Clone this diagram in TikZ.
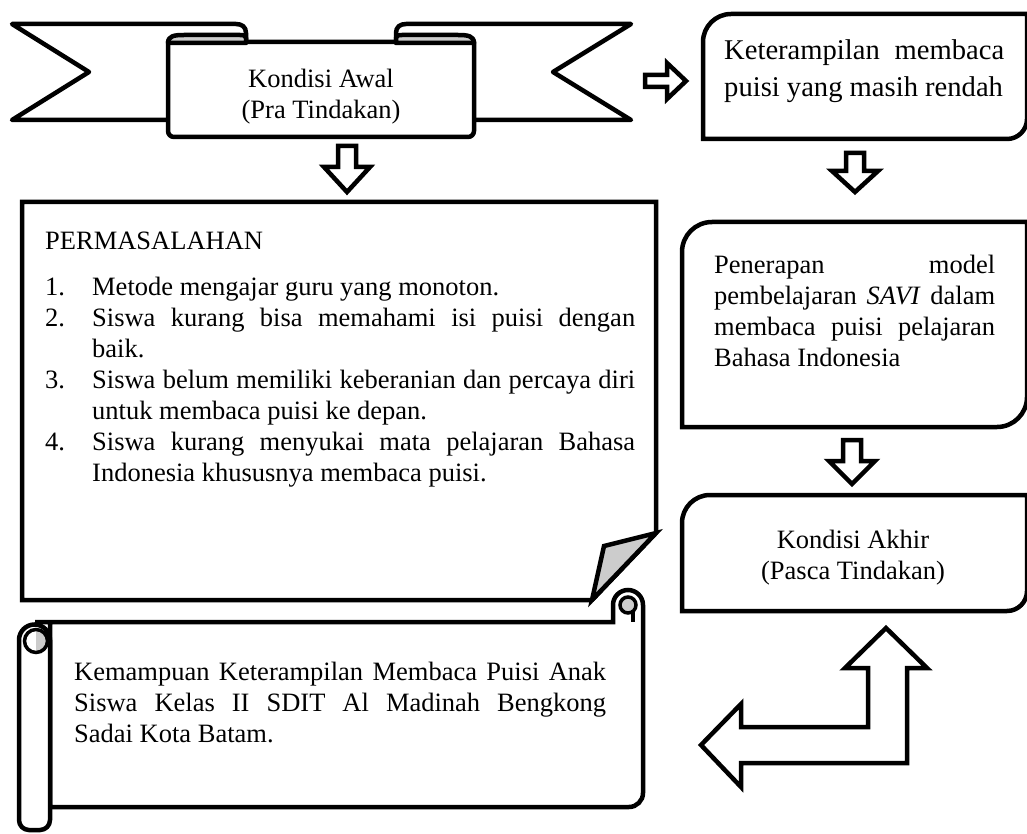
\documentclass[tikz,border=0pt]{standalone}
\usepackage{fontspec}
\setmainfont{Liberation Serif}
\definecolor{flap}{gray}{0.8}
\tikzset{
  outl/.style={draw=black, line width=4.5pt, fill=white, line join=miter},
  rib/.style={outl, line join=round},
  txt/.style={inner sep=0pt, font=\fontsize{26.5}{31}\selectfont},
  bigtxt/.style={inner sep=0pt, font=\fontsize{28.6}{37}\selectfont},
}
\begin{document}
\begin{tikzpicture}[x=1pt,y=-1pt]
\useasboundingbox (0,0) rectangle (1027,834);

% ---------- Ribbon "Kondisi Awal" ----------
\draw[rib] (12,24) -- (236,24) .. controls (242,24) and (246,27) .. (246,33) -- (246,120) -- (12,120) -- (89,72) -- cycle;
\draw[rib] (631,24) -- (406,24) .. controls (400,24) and (396,27) .. (396,33) -- (396,120) -- (631,120) -- (553,72) -- cycle;
\draw[rib] (168,42) [rounded corners=6pt] -- (168,137) -- (474,137) -- (474,90) [sharp corners] -- (474,42) -- cycle;
\draw[rib, fill=flap] (168,43) .. controls (168,36) and (174,35) .. (184,35) -- (240,35) .. controls (244,35) and (246,36) .. (246,38) -- (246,43) -- cycle;
\draw[rib, fill=flap] (474,43) .. controls (474,36) and (468,35) .. (458,35) -- (402,35) .. controls (398,35) and (396,36) .. (396,38) -- (396,43) -- cycle;
\node[txt, anchor=base] (awal) at (321,88) {\parbox[t]{300pt}{\centering Kondisi Awal\\(Pra Tindakan)}};

% ---------- arrows ----------
\draw[outl] (645,75) -- (667,75) -- (667,63) -- (686,81) -- (667,99) -- (667,87) -- (645,87) -- cycle;
\draw[outl] (338,146) -- (356,146) -- (356,167) -- (370,167) -- (347,192) -- (324,167) -- (338,167) -- cycle;
\draw[outl] (846,153) -- (864,153) -- (864,171) -- (878,171) -- (855,192) -- (832,171) -- (846,171) -- cycle;
\draw[outl] (843,440) -- (861,440) -- (861,461) -- (875,461) -- (852,484) -- (829,461) -- (843,461) -- cycle;
\draw[outl] (886,628) -- (927,668) -- (907,668) -- (907,763) -- (741,763) -- (741,787) -- (701,745) -- (741,704) -- (741,727) -- (868,727) -- (868,668) -- (845,668) -- cycle;

% ---------- right boxes ----------
\draw[outl] (703,80) [rounded corners=28pt] -- (703,14) -- (860,14) [sharp corners] -- (1027,14) -- (1027,80) [rounded corners=20pt] -- (1027,139) -- (860,139) [sharp corners] -- (703,139) -- cycle;
\node[bigtxt, anchor=base west] (ket) at (724,60) {\parbox[t]{280pt}{\makebox[280pt][s]{Keterampilan membaca}\\puisi yang masih rendah}};

\draw[outl] (682,320) [rounded corners=30pt] -- (682,222) -- (850,222) [sharp corners] -- (1027,222) -- (1027,320) [rounded corners=30pt] -- (1027,427) -- (850,427) [sharp corners] -- (682,427) -- cycle;
\node[txt, anchor=base west] (savi) at (714,273) {\parbox[t]{281pt}{\makebox[281pt][s]{Penerapan model}\\\makebox[281pt][s]{pembelajaran \textit{SAVI} dalam}\\\makebox[281pt][s]{membaca puisi pelajaran}\\Bahasa Indonesia}};

\draw[outl] (682,550) [rounded corners=28pt] -- (682,495) -- (850,495) [sharp corners] -- (1027,495) -- (1027,550) [rounded corners=20pt] -- (1027,611) -- (850,611) [sharp corners] -- (682,611) -- cycle;
\node[txt, anchor=base] (akhir) at (853,548) {\parbox[t]{300pt}{\centering Kondisi Akhir\\(Pasca Tindakan)}};

% ---------- PERMASALAHAN (folded corner) ----------
\draw[outl] (22,202) -- (656,202) -- (656,533) -- (592,600) -- (22,600) -- cycle;
\draw[outl, fill=flap] (656,533) -- (604,546) -- (592,600) -- cycle;
\node[txt, anchor=base west] (perm) at (45,249) {PERMASALAHAN};
\node[txt, anchor=base west] (list) at (45,295) {\parbox[t]{600pt}{%
\makebox[47pt][l]{1.}Metode mengajar guru yang monoton.\\
\makebox[47pt][l]{2.}\makebox[543pt][s]{Siswa kurang bisa memahami isi puisi dengan}\\
\hspace*{47pt}baik.\\
\makebox[47pt][l]{3.}\makebox[543pt][s]{Siswa belum memiliki keberanian dan percaya diri}\\
\hspace*{47pt}untuk membaca puisi ke depan.\\
\makebox[47pt][l]{4.}\makebox[543pt][s]{Siswa kurang menyukai mata pelajaran Bahasa}\\
\hspace*{47pt}Indonesia khususnya membaca puisi.}};

% ---------- scroll ----------
\draw[outl] (35,622) -- (613,622) -- (613,605) arc[start angle=180, end angle=0, radius=15pt] -- (643,700) [rounded corners=14pt] -- (643,807) -- (300,807) [sharp corners] -- (50,807) -- (50,622) -- cycle;
\fill[flap] (628,605) circle[radius=8pt];
\draw[line width=3.5pt] (628,605) circle[radius=8pt];
\draw[line width=3.5pt] (633,611) -- (633,622);
\draw[outl] (19,640) arc[start angle=180, end angle=0, radius=15.5pt] -- (50,720) [rounded corners=10pt] -- (50,830) -- (19,830) -- (19,720) [sharp corners] -- cycle;
\fill[flap] (36,629.5) arc[start angle=90, end angle=-90, radius=11.5pt] -- cycle;
\draw[line width=3.5pt] (36,641) circle[radius=11.5pt];
\node[txt, anchor=base west] (kemampuan) at (74,680) {\parbox[t]{532pt}{\makebox[532pt][s]{Kemampuan Keterampilan Membaca Puisi Anak}\\\makebox[532pt][s]{Siswa Kelas II SDIT Al Madinah Bengkong}\\Sadai Kota Batam.}};
\end{tikzpicture}
\end{document}
